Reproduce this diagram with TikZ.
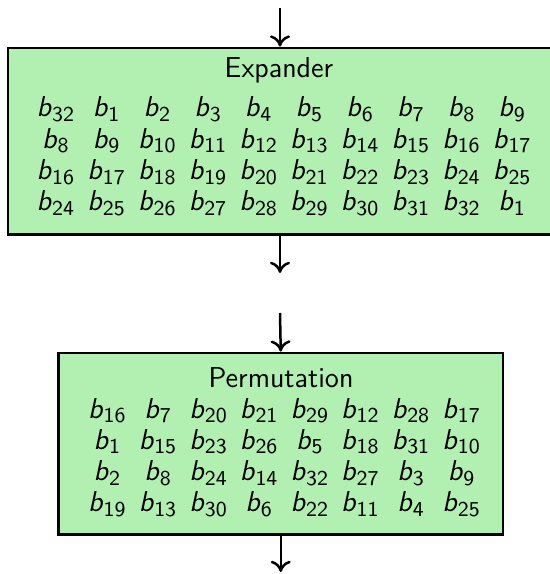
\documentclass[tikz,border=0pt]{standalone}
\usepackage{amsmath}
\usetikzlibrary{arrows.meta}
\DeclareMathSizes{11.5}{11.5}{8.5}{6.5}
\definecolor{boxgreen}{RGB}{177,240,177}
\newcommand{\bsub}[1]{$\textsf{\textit{b}}_{\textsf{#1}}$}
\begin{document}
\begin{tikzpicture}[x=0.4pt,y=-0.4pt,
  stagebox/.style={draw=black, fill=boxgreen, line width=1.1pt, rectangle, inner sep=0pt},
  cell/.style={anchor=base, inner sep=0pt, font=\fontsize{11.5}{13.5}\selectfont},
  boxtitle/.style={anchor=base, inner sep=0pt, font=\fontsize{11.5}{13.5}\selectfont\sffamily},
  flow/.style={line width=1pt, -{To[length=4.5pt,width=8pt]}}]
\useasboundingbox (0,0) rectangle (550,574);
\node[stagebox, minimum width=217.6pt, minimum height=74.6pt] (exp) at (280,141.25) {};
\node[stagebox, minimum width=177.8pt, minimum height=72.6pt] (perm) at (280.75,443.75) {};
\node[boxtitle] (exptitle) at (279,77) {Expander};
\node[boxtitle] (permtitle) at (281,387) {Permutation};
\foreach \row [count=\r] in {{32,1,2,3,4,5,6,7,8,9},{8,9,10,11,12,13,14,15,16,17},{16,17,18,19,20,21,22,23,24,25},{24,25,26,27,28,29,30,31,32,1}} {
  \foreach \v [count=\c] in \row {
    \node[cell] (e-\r-\c) at ({56+(\c-1)*50.7},{116.7+(\r-1)*31.4}) {\bsub{\v}};
  }
}
\foreach \row [count=\r] in {{16,7,20,21,29,12,28,17},{1,15,23,26,5,18,31,10},{2,8,24,14,32,27,3,9},{19,13,30,6,22,11,4,25}} {
  \foreach \v [count=\c] in \row {
    \node[cell] (p-\r-\c) at ({107.5+(\c-1)*50.6},{418+(\r-1)*31.3}) {\bsub{\v}};
  }
}
\coordinate (in1) at (280,8);
\coordinate (mid1) at (280,273);
\coordinate (mid2) at (280,313);
\coordinate (out1) at (280.75,572);
\draw[flow] (in1) -- (exp.north);
\draw[flow] (exp.south) -- (mid1);
\draw[flow] (mid2) -- (perm.north);
\draw[flow] (perm.south) -- (out1);
\end{tikzpicture}
\end{document}
